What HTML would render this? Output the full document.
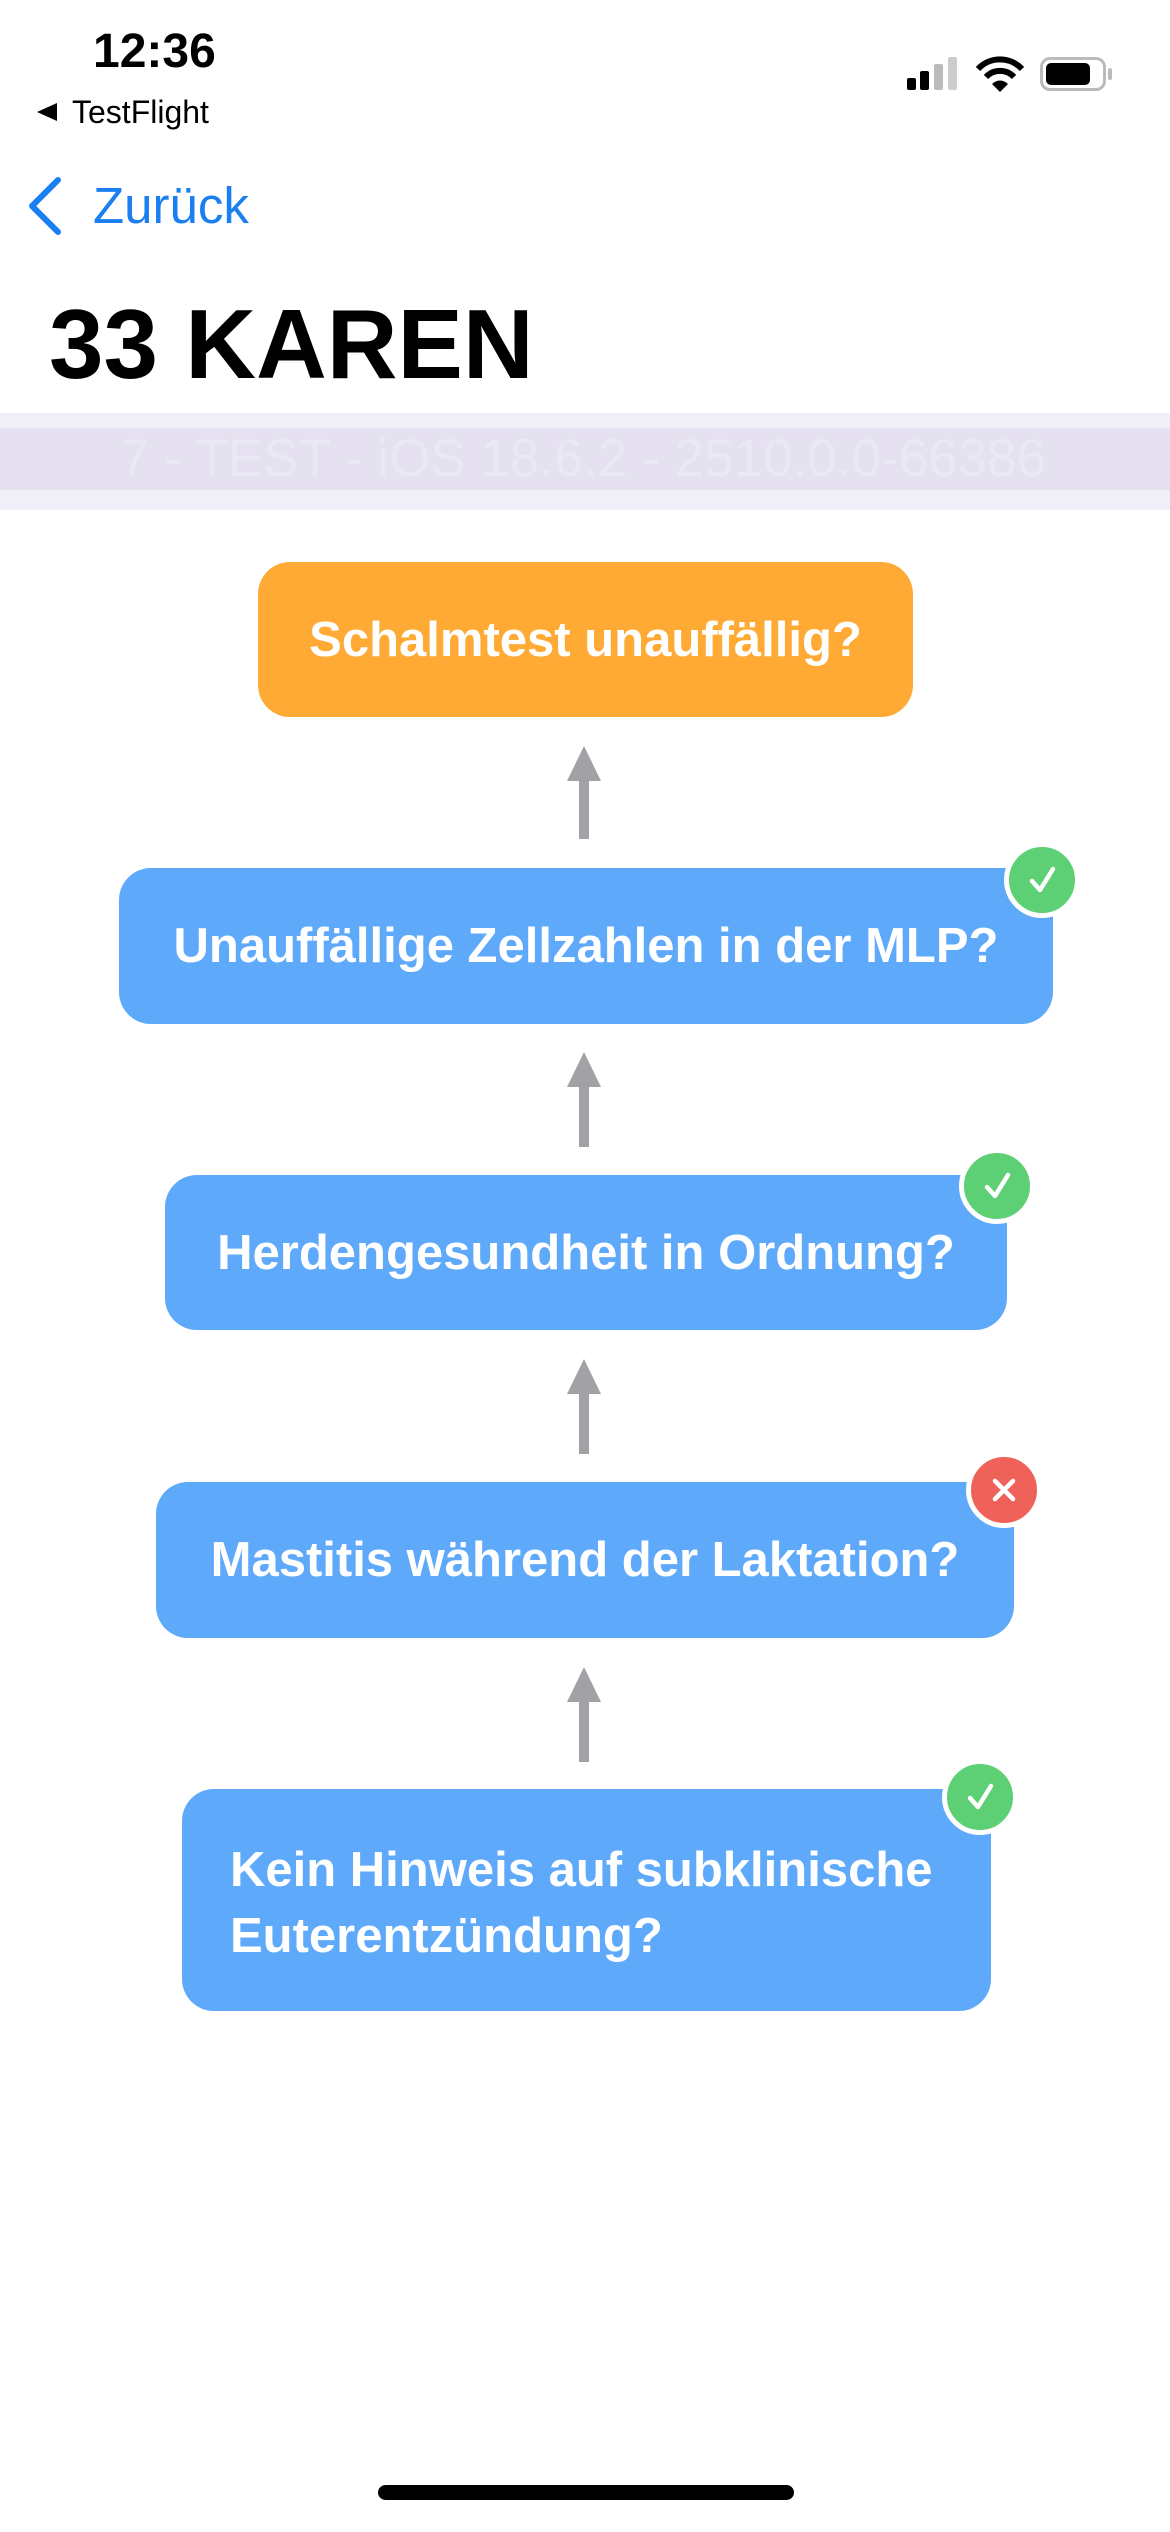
<!DOCTYPE html>
<html><head><meta charset="utf-8"><style>
*{margin:0;padding:0;box-sizing:border-box}
body{width:1170px;height:2532px;background:#fff;position:relative;overflow:hidden;font-family:"Liberation Sans",sans-serif}
.a{position:absolute}
.box{position:absolute;border-radius:32px;color:#fff;font-weight:bold;font-size:49px;display:flex;align-items:center;justify-content:center;white-space:nowrap}
.blue{background:#5FA9FB}
.badge{position:absolute;width:76px;height:76px;border-radius:50%;border:5px solid #fff;display:flex;align-items:center;justify-content:center}
.g{background:#5DCF74}.r{background:#EF625A}
</style></head><body>
<div class="a" style="left:93px;top:22px;font-size:48px;font-weight:bold;line-height:60px">12:36</div>
<div class="a" style="left:37px;top:103px;width:0;height:0;border-top:9px solid transparent;border-bottom:9px solid transparent;border-right:20px solid #000"></div>
<div class="a" style="left:72px;top:92px;font-size:32px;line-height:40px">TestFlight</div>
<div class="a" style="left:907px;top:78px;width:9px;height:12px;background:#000;border-radius:2px"></div>
<div class="a" style="left:920px;top:71px;width:9px;height:19px;background:#000;border-radius:2px"></div>
<div class="a" style="left:934px;top:64px;width:9px;height:26px;background:#bbb;border-radius:2px"></div>
<div class="a" style="left:948px;top:57px;width:9px;height:33px;background:#ccc;border-radius:2px"></div>
<svg class="a" style="left:975px;top:56px" width="50" height="36" viewBox="0 0 50 36"><path d="M3 13 A30 30 0 0 1 47 13" stroke="#000" stroke-width="6" fill="none"/><path d="M11 21 A19 19 0 0 1 39 21" stroke="#000" stroke-width="6" fill="none"/><path d="M17 28 L25 36 L33 28 A11 11 0 0 0 17 28Z" fill="#000"/></svg>
<div class="a" style="left:1040px;top:57px;width:66px;height:34px;border:3px solid #bbb;border-radius:10px"></div>
<div class="a" style="left:1046px;top:63px;width:44px;height:22px;background:#000;border-radius:5px"></div>
<div class="a" style="left:1108px;top:68px;width:4px;height:12px;background:#bbb;border-radius:2px"></div>
<svg class="a" style="left:24px;top:176px" width="40" height="60"><path d="M34 4 L8 30 L34 56" stroke="#1A7FF0" stroke-width="6" fill="none" stroke-linecap="round" stroke-linejoin="round"/></svg>
<div class="a" style="left:93px;top:176px;font-size:51px;color:#1A7FF0;line-height:60px">Zurück</div>
<div class="a" style="left:49px;top:284px;font-size:98px;font-weight:bold;line-height:120px">33 KAREN</div>
<div class="a" style="left:0;top:413px;width:1170px;height:97px;background:#F0EEF6"></div>
<div class="a" style="left:0;top:428px;width:1170px;height:62px;background:#E6E1F1"></div>
<div class="a" style="left:120px;top:428px;font-size:53px;color:#EBE8F5;line-height:62px;white-space:nowrap">7 - TEST - iOS 18.6.2 - 2510.0.0-66386</div>

<div class="box" style="left:258px;top:562px;width:655px;height:155px;background:#FEAA34">Schalmtest unauffällig?</div>
<div class="box blue" style="left:119px;top:868px;width:934px;height:156px">Unauffällige Zellzahlen in der MLP?</div>
<div class="box blue" style="left:165px;top:1175px;width:842px;height:155px">Herdengesundheit in Ordnung?</div>
<div class="box blue" style="left:156px;top:1482px;width:858px;height:156px">Mastitis während der Laktation?</div>
<div class="box blue" style="left:182px;top:1789px;width:809px;height:222px;display:block;white-space:normal;padding:48px 0 0 48px;line-height:66px">Kein Hinweis auf subklinische<br>Euterentzündung?</div>

<svg class="a" style="left:0;top:0" width="1170" height="2532">
<g fill="#A1A1A6">
<path d="M567 781 L584 746 L601 781Z"/><rect x="579" y="780" width="10" height="59"/>
<path d="M567 1087 L584 1052 L601 1087Z"/><rect x="579" y="1086" width="10" height="61"/>
<path d="M567 1394 L584 1359 L601 1394Z"/><rect x="579" y="1393" width="10" height="61"/>
<path d="M567 1702 L584 1667 L601 1702Z"/><rect x="579" y="1701" width="10" height="61"/>
</g></svg>

<div class="badge g" style="left:1004px;top:842px"><svg width="36" height="36"><path d="M8 19 L16 28 L29 7" stroke="#fff" stroke-width="4.5" fill="none" stroke-linecap="round" stroke-linejoin="round"/></svg></div>
<div class="badge g" style="left:959px;top:1148px"><svg width="36" height="36"><path d="M8 19 L16 28 L29 7" stroke="#fff" stroke-width="4.5" fill="none" stroke-linecap="round" stroke-linejoin="round"/></svg></div>
<div class="badge r" style="left:966px;top:1452px"><svg width="36" height="36"><path d="M9 9 L27 27 M27 9 L9 27" stroke="#fff" stroke-width="4.5" stroke-linecap="round"/></svg></div>
<div class="badge g" style="left:942px;top:1759px"><svg width="36" height="36"><path d="M8 19 L16 28 L29 7" stroke="#fff" stroke-width="4.5" fill="none" stroke-linecap="round" stroke-linejoin="round"/></svg></div>

<div class="a" style="left:378px;top:2485px;width:416px;height:15px;background:#000;border-radius:8px"></div>
</body></html>
